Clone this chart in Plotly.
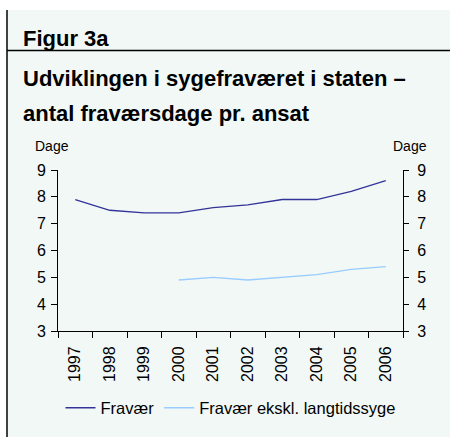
import plotly.graph_objects as go

years = ["1997", "1998", "1999", "2000", "2001", "2002", "2003", "2004", "2005", "2006"]
fravaer = [7.9, 7.5, 7.4, 7.4, 7.6, 7.7, 7.9, 7.9, 8.2, 8.6]
fravaer_ekskl = [None, None, None, 4.9, 5.0, 4.9, 5.0, 5.1, 5.3, 5.4]
y_ticks = [3, 4, 5, 6, 7, 8, 9]

W, H = 450, 437
L, R, T, B = 58, 47, 170, 106
PW, PH = W - L - R, H - T - B
BG = "#F1F8F6"
FONT = "Liberation Sans, Arial, sans-serif"


def px_x(x):
    return (x - L) / PW


def px_y(y):
    return (H - B - y) / PH


fig = go.Figure()
fig.add_trace(go.Scatter(x=years, y=fravaer, mode="lines", name="Fravær",
                         line=dict(color="#333399", width=1.3)))
fig.add_trace(go.Scatter(x=years, y=fravaer_ekskl, mode="lines",
                         name="Fravær ekskl. langtidssyge",
                         line=dict(color="#99CCFF", width=1.3)))
# invisible trace for the right axis
fig.add_trace(go.Scatter(x=years, y=fravaer, yaxis="y2", mode="lines",
                         line=dict(width=0), showlegend=False, hoverinfo="skip",
                         opacity=0))

fig.update_layout(
    width=W, height=H,
    margin=dict(l=L, r=R, t=T, b=B),
    paper_bgcolor="white",
    plot_bgcolor="rgba(0,0,0,0)",
    font=dict(family=FONT, color="black", size=16),
    showlegend=True,
    legend=dict(orientation="h", x=0.5, xanchor="center", y=px_y(408),
                yanchor="middle", font=dict(size=16.5), bgcolor="rgba(0,0,0,0)",
                itemwidth=30),
    xaxis=dict(type="category", showgrid=False, showline=True, linecolor="black",
               linewidth=1, ticks="outside", ticklen=6, tickcolor="black",
               tickson="boundaries", tickangle=-90, tickfont=dict(size=16),
               ticklabelstandoff=8, zeroline=False, range=[-0.5, 9.5]),
    yaxis=dict(range=[3, 9], tickvals=y_ticks, showgrid=False, showline=True,
               linecolor="black", linewidth=1, ticks="outside", ticklen=6,
               tickcolor="black", tickfont=dict(size=16), ticklabelstandoff=2,
               zeroline=False),
    yaxis2=dict(range=[3, 9], tickvals=y_ticks, overlaying="y", side="right",
                anchor="x", showgrid=False, showline=True, linecolor="black",
                linewidth=1, ticks="outside", ticklen=5, tickcolor="black",
                tickfont=dict(size=16), ticklabelstandoff=5, zeroline=False),
    yaxis3=dict(range=[3, 9], tickvals=y_ticks, overlaying="y", side="right",
                anchor="x", showgrid=False, showline=False, ticks="inside",
                ticklen=5, tickcolor="black", showticklabels=False,
                zeroline=False),
)

# background panel and frame lines
fig.add_shape(type="rect", xref="paper", yref="paper", x0=px_x(8), x1=px_x(W),
              y0=px_y(10), y1=px_y(H), fillcolor=BG, line=dict(width=0),
              layer="below")
fig.add_shape(type="line", xref="paper", yref="paper", x0=px_x(7), x1=px_x(7),
              y0=px_y(10), y1=px_y(H), line=dict(color="black", width=1.5))
fig.add_shape(type="line", xref="paper", yref="paper", x0=px_x(7), x1=px_x(W),
              y0=px_y(50.5), y1=px_y(50.5), line=dict(color="black", width=1.5))

ann = [
    ("Figur 3a", 22, 38, 22, True, "left"),
    ("Udviklingen i sygefraværet i staten –", 22, 78.5, 22, True, "left"),
    ("antal fraværsdage pr. ansat", 22, 113, 22, True, "left"),
    ("Dage", 51.5, 145.5, 14, False, "center"),
    ("Dage", 410, 145.5, 14, False, "center"),
]
for text, x, y, size, bold, xa in ann:
    fig.add_annotation(text=f"<b>{text}</b>" if bold else text, xref="paper",
                       yref="paper", x=px_x(x), y=px_y(y), xanchor=xa,
                       yanchor="middle", showarrow=False, borderpad=0,
                       font=dict(size=size, family=FONT, color="black"))

fig.write_html("out.html",
               config={"displayModeBar": False},
               post_script="document.body.style.margin='0';"
                           "document.body.style.overflow='hidden';")
